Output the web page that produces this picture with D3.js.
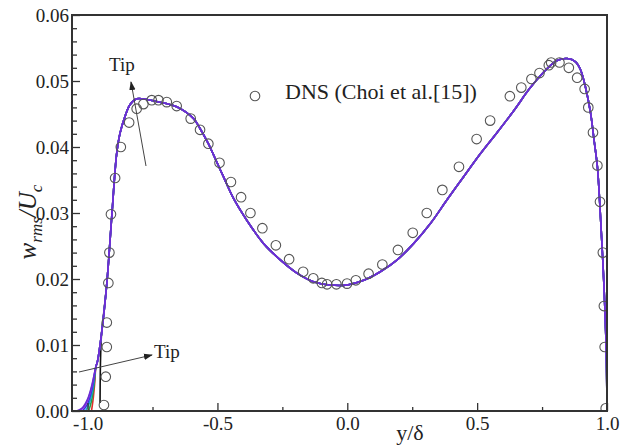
<!DOCTYPE html>
<html><head><meta charset="utf-8">
<script src="https://cdn.jsdelivr.net/npm/d3@7"></script>
<style>body{margin:0;background:#fff}svg{display:block}</style>
</head><body>
<svg id="c" width="636" height="447"></svg>
<script>
// DNS data (Choi et al.[15]) : [y/delta, w_rms/U_c]
const dnsX = [-0.937,-0.930,-0.926,-0.926,-0.920,-0.916,-0.910,-0.894,-0.872,-0.840,-0.811,-0.785,-0.753,-0.727,-0.695,-0.657,-0.603,-0.567,-0.535,-0.492,-0.448,-0.409,-0.373,-0.327,-0.275,-0.224,-0.170,-0.131,-0.098,-0.078,-0.042,-0.001,0.033,0.082,0.135,0.195,0.252,0.306,0.366,0.430,0.498,0.550,0.626,0.670,0.709,0.740,0.776,0.785,0.817,0.853,0.885,0.914,0.928,0.946,0.963,0.973,0.984,0.988,0.991,0.995];
const dnsW = [0.0009,0.0052,0.0097,0.0134,0.0194,0.0240,0.0298,0.0353,0.0400,0.0437,0.0458,0.0465,0.0471,0.0471,0.0468,0.0462,0.0443,0.0426,0.0405,0.0376,0.0347,0.0324,0.0300,0.0277,0.0251,0.0230,0.0211,0.0201,0.0194,0.0192,0.0192,0.0193,0.0198,0.0208,0.0222,0.0244,0.0270,0.0300,0.0335,0.0370,0.0412,0.0440,0.0477,0.0490,0.0503,0.0512,0.0524,0.0528,0.0528,0.0520,0.0505,0.0488,0.0460,0.0422,0.0372,0.0317,0.0240,0.0159,0.0097,0.0004];

// Common profile of the simulations (away from the tip region)
const profX = [-0.962,-0.946,-0.926,-0.907,-0.888,-0.875,-0.856,-0.837,-0.811,-0.772,-0.734,-0.657,-0.592,-0.567,-0.535,-0.515,-0.477,-0.438,-0.387,-0.323,-0.258,-0.194,-0.130,-0.066,0.0,0.063,0.127,0.192,0.256,0.320,0.384,0.448,0.513,0.577,0.641,0.705,0.770,0.808,0.847,0.879,0.898,0.917,0.937,0.950,0.963,0.975,0.988,0.997,1.0];
const profW = [0.0075,0.0118,0.0193,0.0294,0.0390,0.0421,0.0446,0.0464,0.0473,0.0472,0.0469,0.0461,0.0443,0.0428,0.0405,0.0388,0.0355,0.0322,0.0289,0.0254,0.0229,0.0209,0.0196,0.0191,0.0191,0.0198,0.0211,0.0229,0.0254,0.0284,0.0320,0.0355,0.0390,0.0422,0.0455,0.0490,0.0519,0.0531,0.0534,0.0529,0.0517,0.0491,0.0451,0.0411,0.0370,0.0294,0.0193,0.0092,0.0];

// Near-wall (tip) branches of each simulation curve
const tipBlackX  = [-0.952,-0.951,-0.948];       const tipBlackW  = [0.0012,0.0060,0.0105];
const tipRedX    = [-0.985,-0.978,-0.972,-0.968]; const tipRedW    = [0.0,0.0020,0.0045,0.0067];
const tipGreenX  = [-0.996,-0.985,-0.975,-0.968]; const tipGreenW  = [0.0,0.0015,0.0040,0.0067];
const tipCyanX   = [-1.008,-0.993,-0.979,-0.968]; const tipCyanW   = [0.0,0.0012,0.0036,0.0067];
const tipBlueX   = [-1.020,-1.001,-0.983,-0.968]; const tipBlueW   = [0.0,0.0010,0.0033,0.0067];
const tipVioletX = [-1.032,-1.010,-0.988,-0.968]; const tipVioletW = [0.0,0.0008,0.0030,0.0067];
const tipPurpleX = [-1.042,-1.020,-1.000,-0.983,-0.968]; const tipPurpleW = [0.0,0.0005,0.0018,0.0040,0.0067];

const xTicksMajor = [-1.0,-0.5,0.0,0.5,1.0];
const xTickLabels = ["-1.0","-0.5","0.0","0.5","1.0"];
const yTicksMajor = [0.00,0.01,0.02,0.03,0.04,0.05,0.06];
const yTickLabels = ["0.00","0.01","0.02","0.03","0.04","0.05","0.06"];

const svg = d3.select("#c");
const x = d3.scaleLinear().domain([-1.06, 1.0]).range([72, 607]);
const y = d3.scaleLinear().domain([0, 0.06]).range([411, 15]);
const serif = "'Liberation Serif', 'DejaVu Serif', serif";

const clip = svg.append("defs").append("clipPath").attr("id","plot")
  .append("rect").attr("x",72).attr("y",15).attr("width",535).attr("height",396);

const zip = (a,b) => a.map((v,i)=>[v,b[i]]);
const line = d3.line().x(d=>x(d[0])).y(d=>y(d[1])).curve(d3.curveCatmullRom.alpha(0.5));
const startIdx = (xs) => profX.findIndex(v => v > xs[xs.length-1] + 0.001);

const series = [
  {tx:tipBlackX, tw:tipBlackW, c:"#111111"},
  {tx:tipRedX, tw:tipRedW, c:"#e0302a"},
  {tx:tipGreenX, tw:tipGreenW, c:"#22a04a"},
  {tx:tipCyanX, tw:tipCyanW, c:"#1aa8c8"},
  {tx:tipBlueX, tw:tipBlueW, c:"#2a3ce0"},
  {tx:tipVioletX, tw:tipVioletW, c:"#9a2ee8"},
  {tx:tipPurpleX, tw:tipPurpleW, c:"#6a2fd2"}
];
const g = svg.append("g").attr("clip-path","url(#plot)");
series.forEach(s => {
  const k = startIdx(s.tx);
  const pts = zip(s.tx, s.tw).concat(zip(profX.slice(k), profW.slice(k)));
  g.append("path").attr("d", line(pts)).attr("fill","none")
    .attr("stroke", s.c).attr("stroke-width", 1.6);
});

// DNS circles
g.selectAll("circle.dns").data(zip(dnsX, dnsW)).join("circle")
  .attr("class","dns").attr("cx",d=>x(d[0])).attr("cy",d=>y(d[1])).attr("r",4.8)
  .attr("fill","none").attr("stroke","#555").attr("stroke-width",1.1);

// Axes
const axc = "#333";
const xAx = svg.append("g").attr("transform","translate(0,411)")
  .call(d3.axisBottom(x).tickValues(xTicksMajor).tickSize(-8).tickFormat((d,i)=>xTickLabels[i]));
svg.append("g").attr("transform","translate(0,411)")
  .call(d3.axisBottom(x).tickValues([-0.75,-0.25,0.25,0.75]).tickSize(-4).tickFormat(""))
  .call(a=>a.select(".domain").remove()).selectAll("line").attr("stroke",axc).attr("stroke-width",1.3);
const yAx = svg.append("g").attr("transform","translate(72,0)")
  .call(d3.axisLeft(y).tickValues(yTicksMajor).tickSize(-8).tickFormat((d,i)=>yTickLabels[i]));
svg.append("g").attr("transform","translate(72,0)")
  .call(d3.axisLeft(y).tickValues(d3.range(0.002,0.06,0.002).filter(v=>Math.abs(v*100-Math.round(v*100))>1e-6)).tickSize(-5).tickFormat(""))
  .call(a=>a.select(".domain").remove()).selectAll("line").attr("stroke",axc).attr("stroke-width",1.3);

[xAx,yAx].forEach(a=>{
  a.attr("font-family",serif);
  a.select(".domain").remove();
  a.selectAll("line").attr("stroke",axc).attr("stroke-width",1.3);
  a.selectAll("text").attr("font-family",serif).attr("font-size",19).attr("fill","#222");
});
xAx.selectAll("text").attr("y",6);
yAx.selectAll("text").attr("x",-3);

// frame
svg.append("rect").attr("x",72).attr("y",15).attr("width",535).attr("height",396)
  .attr("fill","none").attr("stroke",axc).attr("stroke-width",2);

// Axis titles
const yl = svg.append("text").attr("transform","translate(36,222) rotate(-90)")
  .attr("text-anchor","middle").attr("font-family",serif).attr("font-size",25)
  .attr("font-style","italic").attr("fill","#222");
yl.append("tspan").text("w");
yl.append("tspan").attr("font-size",17).attr("dy",6).text("rms");
yl.append("tspan").attr("dy",-6).text("/U");
yl.append("tspan").attr("font-size",17).attr("dy",6).text("c");

svg.append("text").attr("x",410).attr("y",440).attr("text-anchor","middle")
  .attr("font-family",serif).attr("font-size",22).attr("fill","#222").text("y/δ");

// Legend
svg.append("circle").attr("cx",255).attr("cy",96).attr("r",4.8)
  .attr("fill","none").attr("stroke","#555").attr("stroke-width",1.1);
svg.append("text").attr("x",285).attr("y",99).attr("font-family",serif).attr("font-size",22)
  .attr("fill","#222").text("DNS (Choi et al.[15])");

// Tip annotations
const defs = svg.select("defs");
defs.append("marker").attr("id","ah").attr("viewBox","0 0 10 10").attr("refX",9).attr("refY",5)
  .attr("markerWidth",9).attr("markerHeight",9).attr("orient","auto-start-reverse")
  .attr("markerUnits","userSpaceOnUse")
  .append("path").attr("d","M0,1.5 L10,5 L0,8.5 Z").attr("fill","#222");
svg.append("line").attr("x1",146).attr("y1",166).attr("x2",131).attr("y2",82)
  .attr("stroke","#444").attr("stroke-width",1).attr("marker-end","url(#ah)");
svg.append("text").attr("x",109).attr("y",71).attr("font-family",serif).attr("font-size",19)
  .attr("fill","#222").text("Tip");
svg.append("line").attr("x1",79).attr("y1",372).attr("x2",152).attr("y2",355)
  .attr("stroke","#444").attr("stroke-width",1).attr("marker-end","url(#ah)");
svg.append("text").attr("x",154).attr("y",358).attr("font-family",serif).attr("font-size",19)
  .attr("fill","#222").text("Tip");
</script>
</body></html>
